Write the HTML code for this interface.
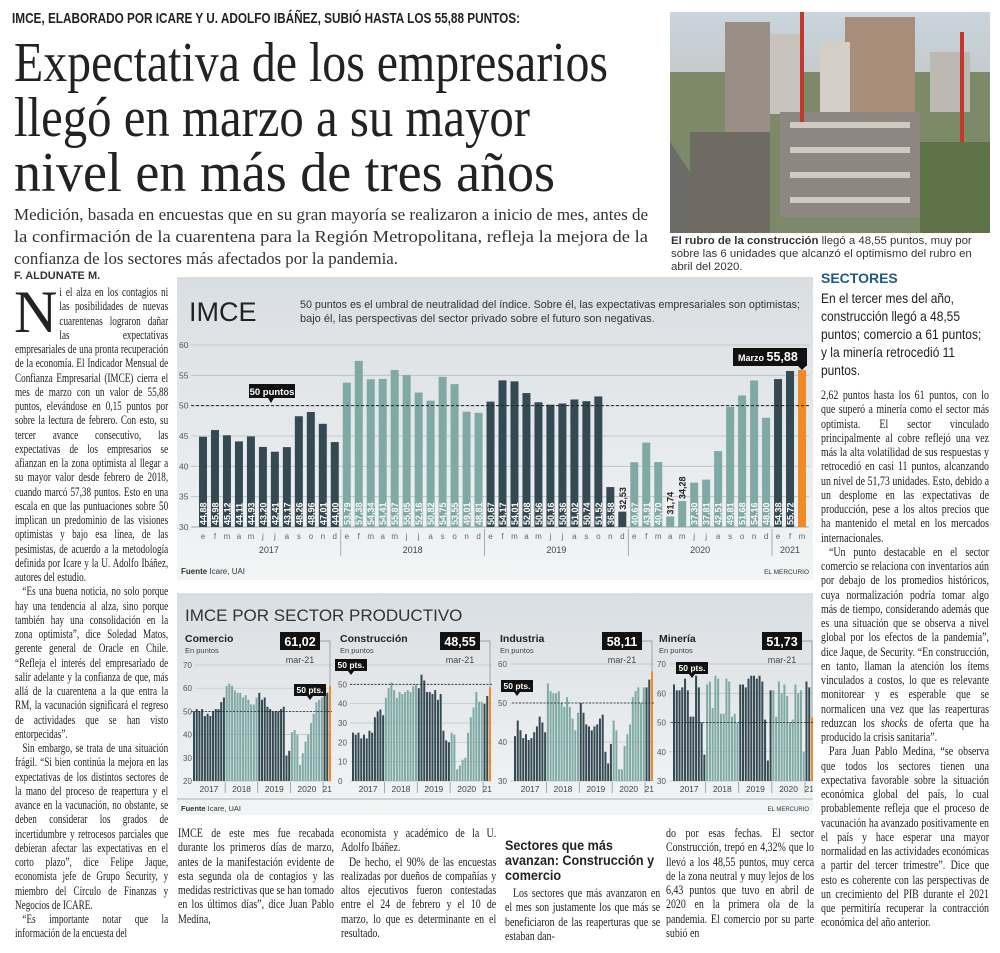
<!DOCTYPE html>
<html lang="es"><head><meta charset="utf-8"><style>
body{margin:0;width:1000px;height:953px;background:#fff;position:relative;overflow:hidden;font-family:"Liberation Serif",serif;color:#222}
.abs{position:absolute}
.col{position:absolute;font-family:"Liberation Serif",serif;font-size:12.4px;line-height:14.25px;text-align:justify;hyphens:auto;transform-origin:0 0}
.col p{margin:0;text-indent:10px}
.sans{font-family:"Liberation Sans",sans-serif}
</style></head><body>
<svg class="abs" style="left:0;top:0" width="670" height="200">
<text x="12" y="23" font-family="Liberation Sans" font-weight="bold" font-size="15" textLength="508" lengthAdjust="spacingAndGlyphs" fill="#222">IMCE, ELABORADO POR ICARE Y U. ADOLFO IBÁÑEZ, SUBIÓ HASTA LOS 55,88 PUNTOS:</text>
<text x="14" y="81" font-family="Liberation Serif" font-size="56" textLength="594" lengthAdjust="spacingAndGlyphs" fill="#222">Expectativa de los empresarios</text>
<text x="14" y="136" font-family="Liberation Serif" font-size="56" textLength="516" lengthAdjust="spacingAndGlyphs" fill="#222">llegó en marzo a su mayor</text>
<text x="14" y="191" font-family="Liberation Serif" font-size="56" textLength="541" lengthAdjust="spacingAndGlyphs" fill="#222">nivel en más de tres años</text>
</svg>
<svg class="abs" style="left:0;top:200" width="670" height="70">
<text x="14" y="20" font-size="16.5" textLength="634" lengthAdjust="spacingAndGlyphs" fill="#333">Medición, basada en encuestas que en su gran mayoría se realizaron a inicio de mes, antes de</text>
<text x="14" y="42" font-size="16.5" textLength="634" lengthAdjust="spacingAndGlyphs" fill="#333">la confirmación de la cuarentena para la Región Metropolitana, refleja la mejora de la</text>
<text x="14" y="64" font-size="16.5" textLength="384" lengthAdjust="spacingAndGlyphs" fill="#333">confianza de los sectores más afectados por la pandemia.</text>
</svg>

<!-- photo -->
<svg class="abs" style="left:670px;top:12px" width="320" height="221">
<defs><linearGradient id="sky" x1="0" y1="0" x2="0" y2="1"><stop offset="0" stop-color="#c9d4dc"/><stop offset="1" stop-color="#b9b4a6"/></linearGradient></defs>
<rect width="320" height="221" fill="url(#sky)"/>
<rect x="0" y="60" width="320" height="161" fill="#7d8a6a"/>
<rect x="55" y="10" width="45" height="110" fill="#9a8f86"/>
<rect x="100" y="22" width="30" height="80" fill="#c8c4bd"/>
<rect x="175" y="5" width="70" height="125" fill="#a88e7a"/>
<rect x="150" y="30" width="30" height="90" fill="#d3cfc6"/>
<rect x="260" y="40" width="40" height="60" fill="#bdb9b2"/>
<rect x="110" y="100" width="140" height="105" fill="#8c8780"/>
<rect x="120" y="110" width="120" height="6" fill="#cfcac2"/><rect x="120" y="135" width="120" height="6" fill="#cfcac2"/><rect x="120" y="160" width="120" height="6" fill="#cfcac2"/><rect x="120" y="185" width="120" height="6" fill="#cfcac2"/>
<polygon points="0,221 0,130 60,221" fill="#6b6b68"/>
<rect x="20" y="120" width="80" height="101" fill="#6f6a62"/>
<rect x="130" y="0" width="4" height="110" fill="#c0392b"/><rect x="290" y="20" width="4" height="190" fill="#c0392b"/>
<rect x="250" y="130" width="70" height="91" fill="#5f7349"/>
</svg>
<div class="abs" style="left:671px;top:235px;width:318px;font-size:11.4px;line-height:13px;font-family:'Liberation Sans',sans-serif;color:#333"><b>El rubro de la construcción</b> llegó a 48,55 puntos, muy por sobre las 6 unidades que alcanzó el optimismo del rubro en abril del 2020.</div>

<div class="abs sans" style="left:14px;top:270px;font-size:11px;font-weight:bold;color:#333">F. ALDUNATE M.</div>

<div class="abs" style="left:14px;top:282px;font-size:60px;line-height:60px;color:#222">N</div>
<div class="col" style="left:15px;top:285px;width:207px;transform:scaleX(0.74)">
<p style="text-indent:0"><span style="float:left;width:60px;height:54px"></span>i el alza en los contagios ni las posibilidades de nuevas cuarentenas lograron dañar las expectativas empresariales de una pronta recuperación de la economía. El Indicador Mensual de Confianza Empresarial (IMCE) cierra el mes de marzo con un valor de 55,88 puntos, elevándose en 0,15 puntos por sobre la lectura de febrero. Con esto, su tercer avance consecutivo, las expectativas de los empresarios se afianzan en la zona optimista al llegar a su mayor valor desde febrero de 2018, cuando marcó 57,38 puntos. Esto en una escala en que las puntuaciones sobre 50 implican un predominio de las visiones optimistas y bajo esa línea, de las pesimistas, de acuerdo a la metodología definida por Icare y la U. Adolfo Ibáñez, autores del estudio.</p>
<p>“Es una buena noticia, no solo porque hay una tendencia al alza, sino porque también hay una consolidación en la zona optimista”, dice Soledad Matos, gerente general de Oracle en Chile. “Refleja el interés del empresariado de salir adelante y la confianza de que, más allá de la cuarentena a la que entra la RM, la vacunación significará el regreso de actividades que se han visto entorpecidas”.</p>
<p>Sin embargo, se trata de una situación frágil. “Si bien continúa la mejora en las expectativas de los distintos sectores de la mano del proceso de reapertura y el avance en la vacunación, no obstante, se deben considerar los grados de incertidumbre y retrocesos parciales que debieran afectar las expectativas en el corto plazo”, dice Felipe Jaque, economista jefe de Grupo Security, y miembro del Círculo de Finanzas y Negocios de ICARE.</p>
<p>“Es importante notar que la información de la encuesta del</p>
</div>

<!-- main chart -->
<svg id="main" class="abs" style="left:177px;top:277px" width="636" height="303">
<defs><linearGradient id="bg" x1="0" y1="0" x2="0" y2="1"><stop offset="0" stop-color="#d9dee2"/><stop offset="1" stop-color="#f3f4f5"/></linearGradient></defs>
<rect width="636" height="303" fill="url(#bg)"/>
<text x="12" y="44" font-family="Liberation Sans" font-size="27" fill="#222">IMCE</text>
<text x="123" y="31" font-family="Liberation Sans" font-size="11" fill="#333" textLength="500" lengthAdjust="spacingAndGlyphs">50 puntos es el umbral de neutralidad del índice. Sobre él, las expectativas empresariales son optimistas;</text>
<text x="123" y="45" font-family="Liberation Sans" font-size="11" fill="#333">bajo él, las perspectivas del sector privado sobre el futuro son negativas.</text>
<g id="mainG"></g>
<text x="4" y="297" font-family="Liberation Sans" font-size="8" fill="#333"><tspan font-weight="bold">Fuente</tspan> Icare, UAI</text>
<text x="632" y="297" text-anchor="end" font-family="Liberation Sans" font-size="6.5" fill="#333">EL MERCURIO</text>
</svg>

<!-- sector chart -->
<svg id="sec" class="abs" style="left:177px;top:593px" width="636" height="222">
<defs><linearGradient id="bg2" x1="0" y1="0" x2="0" y2="1"><stop offset="0" stop-color="#d9dee2"/><stop offset="1" stop-color="#f3f4f5"/></linearGradient></defs>
<rect width="636" height="222" fill="url(#bg2)"/>
<text x="8" y="28" font-family="Liberation Sans" font-size="17" fill="#333">IMCE POR SECTOR PRODUCTIVO</text>
<g id="secG"></g>
<line x1="0" y1="206" x2="636" y2="206" stroke="#999" stroke-width="0.8"/>
<text x="4" y="218" font-family="Liberation Sans" font-size="7.5" fill="#333"><tspan font-weight="bold">Fuente</tspan> Icare, UAI</text>
<text x="632" y="218" text-anchor="end" font-family="Liberation Sans" font-size="6" fill="#333">EL MERCURIO</text>
</svg>

<!-- right column -->
<div class="abs sans" style="left:821px;top:270px;font-size:14px;font-weight:bold;color:#1f5a86">SECTORES</div>
<div class="abs sans" style="left:821px;top:290px;width:190px;font-size:13.6px;line-height:18px;color:#222;transform:scaleX(0.88);transform-origin:0 0">En el tercer mes del año, construcción llegó a 48,55 puntos; comercio a 61 puntos; y la minería retrocedió 11 puntos.</div>
<div class="col" style="left:821px;top:388px;width:210px;transform:scaleX(0.8)">
<p style="text-indent:0">2,62 puntos hasta los 61 puntos, con lo que superó a minería como el sector más optimista. El sector vinculado principalmente al cobre reflejó una vez más la alta volatilidad de sus respuestas y retrocedió en casi 11 puntos, alcanzando un nivel de 51,73 unidades. Esto, debido a un desplome en las expectativas de producción, pese a los altos precios que ha mantenido el metal en los mercados internacionales.</p>
<p>“Un punto destacable en el sector comercio se relaciona con inventarios aún por debajo de los promedios históricos, cuya normalización podría tomar algo más de tiempo, considerando además que es una situación que se observa a nivel global por los efectos de la pandemia”, dice Jaque, de Security. “En construcción, en tanto, llaman la atención los ítems vinculados a costos, lo que es relevante monitorear y es esperable que se normalicen una vez que las reaperturas reduzcan los <i>shocks</i> de oferta que ha producido la crisis sanitaria”.</p>
<p>Para Juan Pablo Medina, “se observa que todos los sectores tienen una expectativa favorable sobre la situación económica global del país, lo cual probablemente refleja que el proceso de vacunación ha avanzado positivamente en el país y hace esperar una mayor normalidad en las actividades económicas a partir del tercer trimestre”. Dice que esto es coherente con las perspectivas de un crecimiento del PIB durante el 2021 que permitiría recuperar la contracción económica del año anterior.</p>
</div>

<!-- bottom columns -->
<div class="col" style="left:178px;top:826px;width:195px;transform:scaleX(0.8)"><p style="text-indent:0">IMCE de este mes fue recabada durante los primeros días de marzo, antes de la manifestación evidente de esta segunda ola de contagios y las medidas restrictivas que se han tomado en los últimos días”, dice Juan Pablo Medina,</p></div>
<div class="col" style="left:341px;top:826px;width:194px;transform:scaleX(0.8)"><p style="text-indent:0">economista y académico de la U. Adolfo Ibáñez.</p><p>De hecho, el 90% de las encuestas realizadas por dueños de compañías y altos ejecutivos fueron contestadas entre el 24 de febrero y el 10 de marzo, lo que es determinante en el resultado.</p></div>
<div class="abs sans" style="left:505px;top:838px;width:170px;font-size:14px;line-height:15px;font-weight:bold;color:#222;transform:scaleX(0.9);transform-origin:0 0">Sectores que más avanzan: Construcción y comercio</div>
<div class="col" style="left:505px;top:886px;width:194px;transform:scaleX(0.8)"><p>Los sectores que más avanzaron en el mes son justamente los que más se beneficiaron de las reaperturas que se estaban dan-</p></div>
<div class="col" style="left:666px;top:826px;width:185px;transform:scaleX(0.8)"><p style="text-indent:0">do por esas fechas. El sector Construcción, trepó en 4,32% que lo llevó a los 48,55 puntos, muy cerca de la zona neutral y muy lejos de los 6,43 puntos que tuvo en abril de 2020 en la primera ola de la pandemia. El comercio por su parte subió en</p></div>

<script>
const NS="http://www.w3.org/2000/svg";
// ---- main chart data ----
const months=["e","f","m","a","m","j","j","a","s","o","n","d","e","f","m","a","m","j","j","a","s","o","n","d","e","f","m","a","m","j","j","a","s","o","n","d","e","f","m","a","m","j","j","a","s","o","n","d","e","f","m"];
const years=["2017","2018","2019","2020","2021"];
const imceValues=[44.88,45.98,45.12,44.11,44.93,43.20,42.41,43.17,48.26,48.96,47.01,44.00,
53.79,57.38,54.34,54.41,55.87,55.05,52.16,50.82,54.75,53.55,49.01,48.81,
50.67,54.17,54.01,52.08,50.56,50.16,50.36,51.02,50.74,51.52,36.58,32.53,
40.67,43.91,40.70,31.74,34.28,37.30,37.81,42.51,49.81,51.68,54.16,48.00,
54.38,55.72,55.88];
const yTicks=[30,35,40,45,50,55,60];
const DARK="#344a53",LIGHT="#7ea9a4",ORANGE="#f08a24";
function mk(tag,attrs,parent){const e=document.createElementNS(NS,tag);for(const k in attrs)e.setAttribute(k,attrs[k]);parent.appendChild(e);return e;}
const g=document.getElementById("mainG");
const yMin=30,yMax=60,yBot=250,yTop=68;
function yS(v){return yBot-(v-yMin)*(yBot-yTop)/(yMax-yMin);}
function xS(i){return 26+i*(599/(imceValues.length-1));}
yTicks.forEach(t=>{
 const l=mk("line",{x1:14,x2:632,y1:yS(t),y2:yS(t),stroke:t===30?"#888":"#b8bec3","stroke-width":0.8},g);
 
 
 const tx=mk("text",{x:2,y:yS(t)+3,"font-family":"Liberation Sans","font-size":8.5,fill:"#555"},g);tx.textContent=t;
 
 
});
function yearColor(i,n){const yr=Math.floor(i/12);if(i===n-1)return ORANGE;return yr%2===0?DARK:LIGHT;}
imceValues.forEach((v,i)=>{
 const x=xS(i),c=yearColor(i,imceValues.length);
 const r=mk("rect",{x:x-4,y:yS(v),width:8,height:yBot-yS(v),fill:c},g);
 
 
 if(i<imceValues.length-1){
  const lbl=v.toFixed(2).replace(".",",");
  const inside=v>=35;
  const ty=inside?yBot-2:yS(v)-2;
  const t=mk("text",{x:x+3.5,y:ty,transform:`rotate(-90 ${x+3.5} ${ty})`,"font-family":"Liberation Sans","font-size":9,"font-weight":"bold",fill:inside?"#fff":"#222"},g);
  t.textContent=lbl;
  
  
 }
 const m=mk("text",{x:x,y:262,"text-anchor":"middle","font-family":"Liberation Sans","font-size":8,fill:"#666"},g);m.textContent=months[i];
 
 
});
years.forEach((y,k)=>{
 const a=k*12,b=Math.min(k*12+11,imceValues.length-1);
 const t=mk("text",{x:(xS(a)+xS(b))/2,y:276,"text-anchor":"middle","font-family":"Liberation Sans","font-size":9,fill:"#444"},g);t.textContent=y;
 
 
 if(k>0){mk("line",{x1:xS(a)-6,x2:xS(a)-6,y1:252,y2:279,stroke:"#999","stroke-width":0.8},g);}
});
mk("line",{x1:14,x2:632,y1:yS(50),y2:yS(50),stroke:"#222","stroke-dasharray":"3,2","stroke-width":1},g);
const c50=mk("g",{},g);
mk("rect",{x:72,y:107,width:46,height:14,fill:"#111"},c50);mk("polygon",{points:"91,121 97,121 94,126",fill:"#111"},c50);
const t50=mk("text",{x:95,y:118,"text-anchor":"middle","font-family":"Liberation Sans","font-weight":"bold","font-size":9.5,fill:"#fff"},c50);t50.textContent="50 puntos";
const last=imceValues.length-1;
const cm=mk("g",{},g);
mk("rect",{x:xS(last)-69,y:yS(imceValues[last])-22,width:74,height:18,fill:"#111"},cm);
mk("polygon",{points:`${xS(last)-4},${yS(imceValues[last])-4} ${xS(last)+4},${yS(imceValues[last])-4} ${xS(last)},${yS(imceValues[last])}`,fill:"#111"},cm);
const tm=mk("text",{x:xS(last)-64,y:yS(imceValues[last])-9,"font-family":"Liberation Sans","font-size":9,"font-weight":"bold",fill:"#fff"},cm);tm.textContent="Marzo ";
const tm2=mk("tspan",{"font-size":12.5},tm);tm2.textContent=imceValues[last].toFixed(2).replace(".",",");

// ---- sector data ----
const sectorNames=["Comercio","Construcción","Industria","Minería"];
const comercio=[50,51,50,51,48,49,48,50,51,51,54,56,61,62,61,59,58,58,56,57,55,53,53,56,58,55,56,52,51,50,50,50,51,52,31,33,41,42,40,27,32,37,40,45,49,54,55,56,57,58,61.02];
const construccion=[25,24,25,22,24,22,26,25,33,36,37,34,43,48,51,47,43,46,45,46,47,46,49,50,48,55,52,46,46,45,47,42,45,26,21,20,25,24,6,8,11,12,25,33,38,46,41,41,40,44,48.55];
const industria=[41.5,45.5,43,41,42,40.5,41,42.5,44,46.5,45,42.5,55,53,52.5,52.5,53,50,49,51.5,49,46,43,47.5,50,47.5,44.5,44,43,44,44.5,46,47,37.5,34.5,39.5,45.5,43,33,33,39,42,44.5,51.5,53,54,50,54,54,56,58.11];
const mineria=[63,61,61,62,65,61,52,52,66,62,50,39,63,64,55,66,65,53,53,65,64,52,53,50,63,63,62,65,66,66,65,66,64,51,37,61,61,52,64,60,63,59,50,51,63,60,61,40,64,62,51.73];
const sectorSeries=[comercio,construccion,industria,mineria];
const sectorTicks=[[20,30,40,50,60,70],[0,10,20,30,40,50,60],[30,40,50,60],[30,40,50,60,70]];
const sectorYears=["2017","2018","2019","2020","21"];
const panels=[{lx:6,bx0:17,bx1:153,top:72},{lx:161,bx0:176,bx1:313,top:72},{lx:321,bx0:338,bx1:475,top:71},{lx:480,bx0:497,bx1:635,top:71}];
const sg=document.getElementById("secG");
const pBot=188;
sectorSeries.forEach((data,p)=>{
 const P=panels[p],tk=sectorTicks[p],lo=tk[0],hi=tk[tk.length-1];
 const pg=mk("g",{},sg);
 
 
 const ys=v=>pBot-(v-lo)*(pBot-P.top)/(hi-lo);
 const xs=i=>P.bx0+i*(P.bx1-P.bx0)/(data.length-1);
 tk.forEach(t=>{mk("line",{x1:P.lx+12,x2:P.bx1+2,y1:ys(t),y2:ys(t),stroke:"#bcc2c6","stroke-width":0.7},pg);
  const tt=mk("text",{x:P.lx,y:ys(t)+3,"font-family":"Liberation Sans","font-size":8,fill:"#555"},pg);tt.textContent=t;});
 data.forEach((v,i)=>{
  const r=mk("rect",{x:xs(i)-1,y:ys(v),width:2,height:pBot-ys(v),fill:yearColor(i,data.length)},pg);
  
  
 });
 sectorYears.forEach((y,k)=>{
  const a=k*12,b=Math.min(k*12+11,data.length-1);
  const t=mk("text",{x:(xs(a)+xs(b))/2,y:199,"text-anchor":"middle","font-family":"Liberation Sans","font-size":8.5,fill:"#444"},pg);t.textContent=y;
  if(k>0)mk("line",{x1:xs(a)-1.5,x2:xs(a)-1.5,y1:189,y2:200,stroke:"#888","stroke-width":0.7},pg);
 });
 mk("line",{x1:P.bx0-3,x2:P.bx1+2,y1:ys(50),y2:ys(50),stroke:"#222","stroke-dasharray":"2,1.5","stroke-width":0.8},pg);
 const nm=mk("text",{x:P.lx+2,y:49,"font-family":"Liberation Sans","font-weight":"bold","font-size":10.5,fill:"#222"},pg);nm.textContent=sectorNames[p];
 const ep=mk("text",{x:P.lx+2,y:60,"font-family":"Liberation Sans","font-size":7.5,fill:"#444"},pg);ep.textContent="En puntos";
 const lv=data[data.length-1],bx=P.bx1-50;
 mk("rect",{x:bx,y:39,width:40,height:18,fill:"#111"},pg);
 const vt=mk("text",{x:bx+20,y:53,"text-anchor":"middle","font-family":"Liberation Sans","font-weight":"bold","font-size":12.5,fill:"#fff"},pg);vt.textContent=lv.toFixed(2).replace(".",",");
 const mt=mk("text",{x:bx+20,y:70,"text-anchor":"middle","font-family":"Liberation Sans","font-size":9,fill:"#444"},pg);mt.textContent="mar-21";
 mk("polyline",{points:`${bx+40},48 ${P.bx1},48 ${P.bx1},${ys(lv)}`,fill:"none",stroke:"#888","stroke-width":0.7},pg);
});
[[133,100],[174,75],[340,96],[515,78]].forEach(([x,y])=>{
 const cg=mk("g",{},sg);
 
 
 mk("rect",{x:x-16,y:y-9,width:32,height:12,fill:"#111"},cg);
 mk("polygon",{points:`${x-3},${y+3} ${x+3},${y+3} ${x},${y+7}`,fill:"#111"},cg);
 const t=mk("text",{x:x,y:y,"text-anchor":"middle","font-family":"Liberation Sans","font-weight":"bold","font-size":8.5,fill:"#fff"},cg);t.textContent="50 pts.";
});
</script>
</body></html>
